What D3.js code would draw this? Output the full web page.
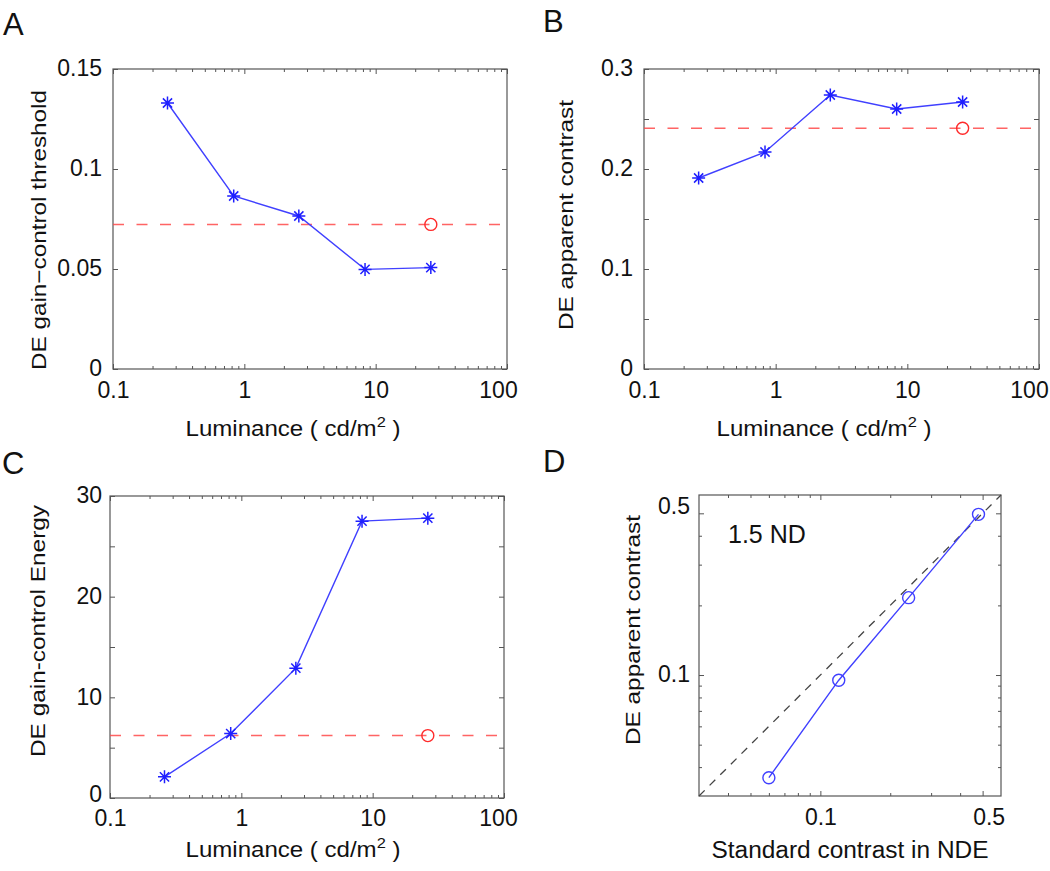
<!DOCTYPE html>
<html><head><meta charset="utf-8">
<script src="https://cdn.jsdelivr.net/npm/d3@7"></script>
<style>body{margin:0;background:#fff}</style>
</head><body>
<svg id="chart" width="1050" height="871"></svg>
<script>
// ---------- data ----------
const luminance = [0.26, 0.83, 2.6, 8.3, 26.3];
const thresholdA = [0.133, 0.0865, 0.0765, 0.0498, 0.0507];
const apparentB = [0.191, 0.217, 0.274, 0.260, 0.267];
const energyC = [2.1, 6.4, 12.9, 27.5, 27.8];
const refLuminance = 26.3;
const refA = 0.0723;
const refB = 0.2407;
const refC = 6.2;
const ndeContrast = [0.06, 0.12, 0.24, 0.48];
const deContrast = [0.036, 0.095, 0.216, 0.495];

const lumTicks = [0.1, 1, 10, 100];
const lumTickLabels = ["0.1", "1", "10", "100"];
const lumMinor = [0.2,0.3,0.4,0.5,0.6,0.7,0.8,0.9,2,3,4,5,6,7,8,9,20,30,40,50,60,70,80,90];
const yTicksA = [0, 0.05, 0.1, 0.15];
const yLabelsA = ["0", "0.05", "0.1", "0.15"];
const yTicksB = [0, 0.1, 0.2, 0.3];
const yLabelsB = ["0", "0.1", "0.2", "0.3"];
const yMinorB = [0.05, 0.15, 0.25];
const yTicksC = [0, 10, 20, 30];
const yLabelsC = ["0", "10", "20", "30"];
const yMinorC = [5, 15, 25];
const dTicks = [0.1, 0.5];
const dTickLabels = ["0.1", "0.5"];
const dMinor = [0.04, 0.05, 0.06, 0.07, 0.08, 0.09, 0.2, 0.3, 0.4];
const dDomain = [0.03, 0.6];

// ---------- drawing ----------
const svg = d3.select("#chart");
const FONT = "'Liberation Sans', Arial, Helvetica, sans-serif";
const BLUE = "#4040ff", RED = "#ff4a4a", AX = "#555";

function styleAxis(sel) {
  sel.select(".domain").remove();
  sel.selectAll("line").attr("stroke", AX).attr("stroke-width", 1);
  sel.selectAll("text").attr("font-family", FONT).attr("font-size", 23).attr("fill", "#111");
  sel.attr("font-family", null).attr("font-size", null);
}

function starPath(s) {
  const d = s * 0.707;
  return `M${-s},0H${s}M0,${-s}V${s}M${-d},${-d}L${d},${d}M${-d},${d}L${d},${-d}`;
}

function shiftLabels(sel, shifts, attr) {
  if (!shifts) return;
  sel.selectAll(".tick text").each(function (d) {
    const s = shifts[String(d)];
    if (s) d3.select(this).attr(attr, (+d3.select(this).attr(attr) || 0) + s);
  });
}

function panel(o) {
  const g = svg.append("g");
  const x = (o.xlog ? d3.scaleLog() : d3.scaleLinear()).domain(o.xd).range([o.l, o.r]);
  const y = (o.ylog ? d3.scaleLog() : d3.scaleLinear()).domain(o.yd).range([o.b, o.t]);

  // axes (ticks inward on all four sides)
  g.append("g").attr("transform", `translate(0,${o.b})`)
    .call(d3.axisBottom(x).tickValues(o.xt).tickFormat((d, i) => o.xl[i]).tickSize(-5).tickPadding(o.xpad))
    .call(styleAxis).call(s => shiftLabels(s, o.xShift, "x"));
  g.append("g").attr("transform", `translate(0,${o.t})`)
    .call(d3.axisTop(x).tickValues(o.xt).tickFormat("").tickSize(-5)).call(styleAxis);
  if (o.xm) {
    g.append("g").attr("transform", `translate(0,${o.b})`)
      .call(d3.axisBottom(x).tickValues(o.xm).tickFormat("").tickSize(-3)).call(styleAxis);
    g.append("g").attr("transform", `translate(0,${o.t})`)
      .call(d3.axisTop(x).tickValues(o.xm).tickFormat("").tickSize(-3)).call(styleAxis);
  }
  g.append("g").attr("transform", `translate(${o.l},0)`)
    .call(d3.axisLeft(y).tickValues(o.yt).tickFormat((d, i) => o.yl[i]).tickSize(-5).tickPadding(o.ypad))
    .call(styleAxis).call(s => s.selectAll(".tick text").attr("dy", "0.3em"))
    .call(s => shiftLabels(s, o.yShift, "y"));
  g.append("g").attr("transform", `translate(${o.r},0)`)
    .call(d3.axisRight(y).tickValues(o.yt).tickFormat("").tickSize(-5)).call(styleAxis);
  if (o.ym) {
    g.append("g").attr("transform", `translate(${o.l},0)`)
      .call(d3.axisLeft(y).tickValues(o.ym).tickFormat("").tickSize(-o.ymSize)).call(styleAxis);
    g.append("g").attr("transform", `translate(${o.r},0)`)
      .call(d3.axisRight(y).tickValues(o.ym).tickFormat("").tickSize(-o.ymSize)).call(styleAxis);
  }
  g.append("rect").attr("x", o.l).attr("y", o.t).attr("width", o.r - o.l).attr("height", o.b - o.t)
    .attr("fill", "none").attr("stroke", AX).attr("stroke-width", 1.2);

  // panel letter
  svg.append("text").attr("x", o.letterX).attr("y", o.letterY).text(o.letter)
    .attr("font-family", FONT).attr("font-size", 31).attr("fill", "#111");

  // x label
  const xl = svg.append("text").attr("x", o.xlabX).attr("y", o.xlabY).attr("text-anchor", "middle")
    .attr("font-family", FONT).attr("font-size", o.xlabSize).attr("fill", "#111");
  if (o.xlabSup) {
    xl.append("tspan").text(o.xlab);
    xl.append("tspan").text(o.xlabSup).attr("font-size", 15).attr("dy", -9);
    xl.append("tspan").text(o.xlabEnd).attr("dy", 9);
  } else {
    xl.text(o.xlab);
  }
  if (o.xlabLen) xl.attr("textLength", o.xlabLen).attr("lengthAdjust", "spacingAndGlyphs");

  // y label
  svg.append("text").attr("transform", `translate(${o.ylabX},${o.ylabY}) rotate(-90)`)
    .attr("text-anchor", "middle").attr("font-family", FONT).attr("font-size", 21).attr("fill", "#111")
    .attr("textLength", o.ylabLen).attr("lengthAdjust", "spacingAndGlyphs")
    .text(o.ylab);

  return {g, x, y};
}

function lumPanel(o, values, ref) {
  const {g, x, y} = panel(o);
  const pts = luminance.map((v, i) => [v, values[i]]);
  // reference dashed line
  g.append("line").attr("x1", o.l).attr("x2", o.r).attr("y1", y(ref)).attr("y2", y(ref))
    .attr("stroke", RED).attr("stroke-width", 1.5).attr("stroke-dasharray", "11,12.5").attr("opacity", 0.85);
  g.append("circle").attr("cx", x(refLuminance)).attr("cy", y(ref)).attr("r", 6)
    .attr("fill", "none").attr("stroke", "#ff2a2a").attr("stroke-width", 1.4);
  g.append("path").datum(pts)
    .attr("d", d3.line().x(d => x(d[0])).y(d => y(d[1])))
    .attr("fill", "none").attr("stroke", BLUE).attr("stroke-width", 1.4);
  g.selectAll(".star").data(pts).enter().append("path")
    .attr("transform", d => `translate(${x(d[0])},${y(d[1])})`)
    .attr("d", starPath(6.5)).attr("fill", "none").attr("stroke", "#1f1fff").attr("stroke-width", 1.5);
}

lumPanel({
  l: 113, r: 507, t: 69, b: 369, xlog: true, xd: [0.1, 100], yd: [0, 0.15],
  xt: lumTicks, xl: lumTickLabels, xm: lumMinor, yt: yTicksA, yl: yLabelsA, xShift: {"100": -9},
  xpad: 13, ypad: 11, letter: "A", letterX: 3, letterY: 35,
  xlab: "Luminance ( cd/m", xlabSup: "2", xlabEnd: " )", xlabX: 293, xlabY: 436, xlabSize: 22, xlabLen: 215,
  ylab: "DE gain\u2212control threshold", ylabX: 46, ylabY: 230, ylabLen: 280
}, thresholdA, refA);

lumPanel({
  l: 644, r: 1039, t: 69, b: 369, xlog: true, xd: [0.1, 100], yd: [0, 0.3],
  xt: lumTicks, xl: lumTickLabels, xm: lumMinor, yt: yTicksB, yl: yLabelsB, ym: yMinorB, ymSize: 5,
  xShift: {"100": -10},
  xpad: 13, ypad: 11, letter: "B", letterX: 543, letterY: 32,
  xlab: "Luminance ( cd/m", xlabSup: "2", xlabEnd: " )", xlabX: 824, xlabY: 436, xlabSize: 22, xlabLen: 215,
  ylab: "DE apparent contrast", ylabX: 573, ylabY: 215, ylabLen: 230
}, apparentB, refB);

lumPanel({
  l: 110, r: 504, t: 496, b: 798, xlog: true, xd: [0.1, 100], yd: [0, 30],
  xt: lumTicks, xl: lumTickLabels, xm: lumMinor, yt: yTicksC, yl: yLabelsC, ym: yMinorC, ymSize: 5,
  xShift: {"100": -6}, yShift: {"0": -3},
  xpad: 12, ypad: 8, letter: "C", letterX: 2, letterY: 474,
  xlab: "Luminance ( cd/m", xlabSup: "2", xlabEnd: " )", xlabX: 293, xlabY: 857, xlabSize: 22, xlabLen: 215,
  ylab: "DE gain-control Energy", ylabX: 45, ylabY: 631, ylabLen: 252
}, energyC, refC);

// Panel D
(function () {
  const o = {
    l: 699, r: 1001, t: 495, b: 796, xlog: true, ylog: true, xd: dDomain, yd: dDomain,
    xt: dTicks, xl: dTickLabels, xm: dMinor, yt: dTicks, yl: dTickLabels, ym: dMinor, ymSize: 3,
    xShift: {"0.5": 6}, yShift: {"0.5": -7},
    xpad: 13, ypad: 9, letter: "D", letterX: 543, letterY: 472,
    xlab: "Standard contrast in NDE", xlabX: 850, xlabY: 858, xlabSize: 23, xlabLen: 277,
    ylab: "DE apparent contrast", ylabX: 640, ylabY: 630, ylabLen: 230
  };
  const {g, x, y} = panel(o);
  g.append("line").attr("x1", x(dDomain[0])).attr("y1", y(dDomain[0]))
    .attr("x2", x(dDomain[1])).attr("y2", y(dDomain[1]))
    .attr("stroke", "#444").attr("stroke-width", 1.3).attr("stroke-dasharray", "8,7");
  const pts = ndeContrast.map((v, i) => [v, deContrast[i]]);
  g.append("path").datum(pts)
    .attr("d", d3.line().x(d => x(d[0])).y(d => y(d[1])))
    .attr("fill", "none").attr("stroke", BLUE).attr("stroke-width", 1.4);
  g.selectAll(".circ").data(pts).enter().append("circle")
    .attr("cx", d => x(d[0])).attr("cy", d => y(d[1])).attr("r", 6)
    .attr("fill", "none").attr("stroke", BLUE).attr("stroke-width", 1.4);
  svg.append("text").attr("x", 728).attr("y", 543).text("1.5 ND")
    .attr("font-family", FONT).attr("font-size", 25).attr("fill", "#111");
})();
</script>
</body></html>
